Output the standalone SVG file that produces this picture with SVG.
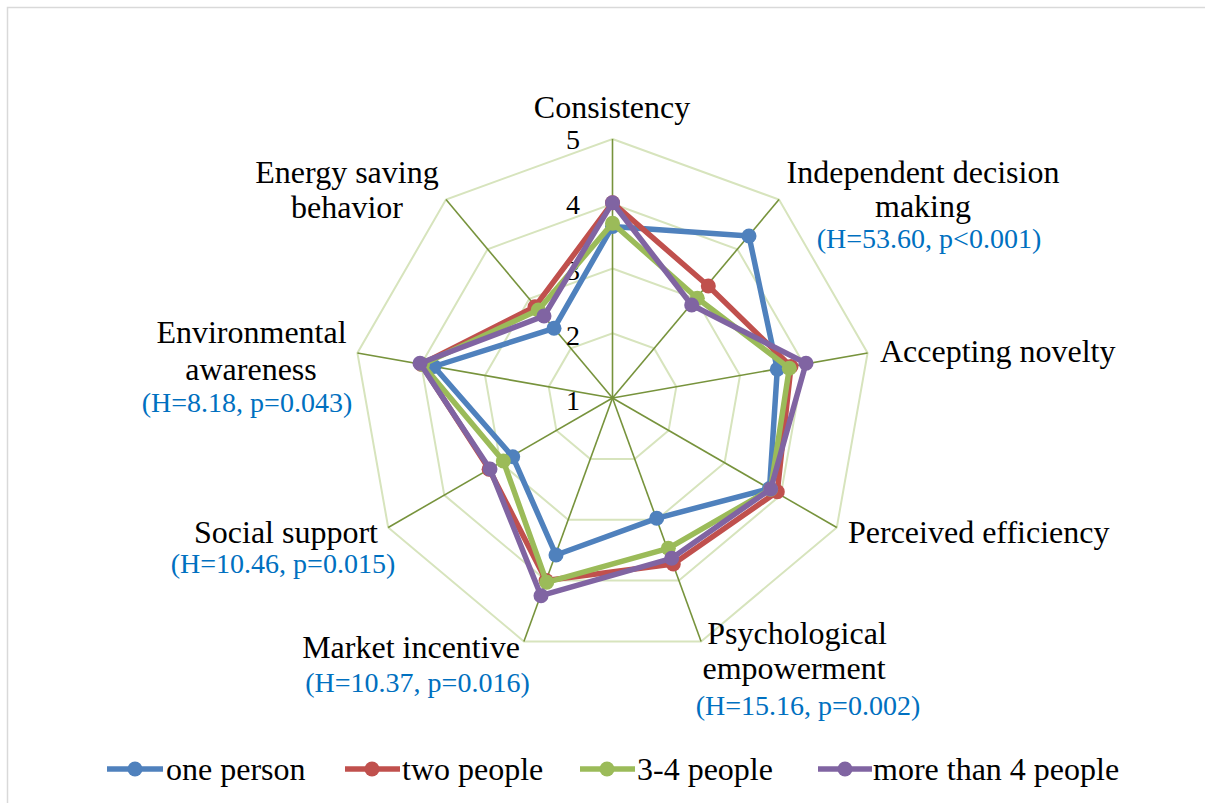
<svg xmlns="http://www.w3.org/2000/svg" width="1205" height="803" viewBox="0 0 1205 803">
<style>
.ring{fill:none;stroke:#d7e4bd;stroke-width:2}
.axis{stroke:#77933c;stroke-width:1.6}
.s{fill:none;stroke-width:5.5;stroke-linejoin:round}
.lbl{font-family:"Liberation Serif","Times New Roman",serif;font-size:32px;fill:#000}
.h{font-family:"Liberation Serif","Times New Roman",serif;font-size:28px;fill:#0070c0}
.num{font-family:"Liberation Serif","Times New Roman",serif;font-size:28px;fill:#000;text-anchor:end}
.blue{stroke:#4f81bd}.bluef{fill:#4f81bd}
.red{stroke:#c0504d}.redf{fill:#c0504d}
.green{stroke:#9bbb59}.greenf{fill:#9bbb59}
.purple{stroke:#8064a2}.purplef{fill:#8064a2}
</style>
<rect x="0" y="0" width="1205" height="803" fill="#fff"/>
<rect x="7.5" y="7.5" width="1210" height="810" fill="none" stroke="#d9d9d9" stroke-width="1.5"/>
<g id="grid" transform="translate(612.5,398)">
<polygon class="ring" points="0,-64.75 41.6,-49.6 63.8,-11.2 56.1,32.4 22.2,60.9 -22.2,60.9 -56.1,32.4 -63.8,-11.2 -41.6,-49.6"/>
<polygon class="ring" points="0,-129.5 83.2,-99.2 127.5,-22.5 112.1,64.75 44.3,121.7 -44.3,121.7 -112.1,64.75 -127.5,-22.5 -83.2,-99.2"/>
<polygon class="ring" points="0,-194.25 124.9,-148.8 191.3,-33.7 168.2,97.1 66.4,182.5 -66.4,182.5 -168.2,97.1 -191.3,-33.7 -124.9,-148.8"/>
<polygon class="ring" points="0,-259 166.5,-198.4 255.1,-45 224.3,129.5 88.6,243.4 -88.6,243.4 -224.3,129.5 -255.1,-45 -166.5,-198.4"/>
<line class="axis" x1="0" y1="0" x2="0" y2="-259"/>
<line class="axis" x1="0" y1="0" x2="166.5" y2="-198.4"/>
<line class="axis" x1="0" y1="0" x2="255.1" y2="-45"/>
<line class="axis" x1="0" y1="0" x2="224.3" y2="129.5"/>
<line class="axis" x1="0" y1="0" x2="88.6" y2="243.4"/>
<line class="axis" x1="0" y1="0" x2="-88.6" y2="243.4"/>
<line class="axis" x1="0" y1="0" x2="-224.3" y2="129.5"/>
<line class="axis" x1="0" y1="0" x2="-255.1" y2="-45"/>
<line class="axis" x1="0" y1="0" x2="-166.5" y2="-198.4"/>
</g>
<g id="scale">
<text class="num" x="580" y="149">5</text>
<text class="num" x="580" y="214">4</text>
<text class="num" x="580" y="280">3</text>
<text class="num" x="580" y="345">2</text>
<text class="num" x="580" y="410">1</text>
</g>
<g id="connectors">
<g id="series-one-person">
<polygon class="s blue" points="612.5,226.4 749,236 777.3,369.3 769.5,488.6 656.7,518.3 556,555 512.7,456.7 433.9,366.5 554,328.3"/>
<g class="bluef">
<circle cx="612.5" cy="226.4" r="7.5"/><circle cx="749" cy="236" r="7.5"/><circle cx="777.3" cy="369.3" r="7.5"/><circle cx="769.5" cy="488.6" r="7.5"/><circle cx="656.7" cy="518.3" r="7.5"/><circle cx="556" cy="555" r="7.5"/><circle cx="512.7" cy="456.7" r="7.5"/><circle cx="433.9" cy="366.5" r="7.5"/><circle cx="554" cy="328.3" r="7.5"/>
</g>
</g>
<g id="series-two-people">
<polygon class="s red" points="612.5,202.7 708.3,286 791,366.5 777.3,491.7 673.3,564 546.1,580.5 489.1,469.2 421.2,364.3 535,306.7"/>
<g class="redf">
<circle cx="612.5" cy="202.7" r="7.5"/><circle cx="708.3" cy="286" r="7.5"/><circle cx="791" cy="366.5" r="7.5"/><circle cx="777.3" cy="491.7" r="7.5"/><circle cx="673.3" cy="564" r="7.5"/><circle cx="546.1" cy="580.5" r="7.5"/><circle cx="489.1" cy="469.2" r="7.5"/><circle cx="421.2" cy="364.3" r="7.5"/><circle cx="535" cy="306.7" r="7.5"/>
</g>
</g>
<g id="series-3-4-people">
<polygon class="s green" points="612.5,223.3 697.3,298.3 789.3,368.3 770.6,489.3 668.3,548.3 546.7,582.3 503.3,461 422.5,364.5 538.3,310"/>
<g class="greenf">
<circle cx="612.5" cy="223.3" r="7.5"/><circle cx="697.3" cy="298.3" r="7.5"/><circle cx="789.3" cy="368.3" r="7.5"/><circle cx="770.6" cy="489.3" r="7.5"/><circle cx="668.3" cy="548.3" r="7.5"/><circle cx="546.7" cy="582.3" r="7.5"/><circle cx="503.3" cy="461" r="7.5"/><circle cx="422.5" cy="364.5" r="7.5"/><circle cx="538.3" cy="310" r="7.5"/>
</g>
</g>
<g id="series-more-than-4">
<polygon class="s purple" points="612.5,202.7 691.7,305 806,363.3 770.7,489 671.7,558.3 541,595.7 490,469 420,363.3 544,316"/>
<g class="purplef">
<circle cx="612.5" cy="202.7" r="7.5"/><circle cx="691.7" cy="305" r="7.5"/><circle cx="806" cy="363.3" r="7.5"/><circle cx="770.7" cy="489" r="7.5"/><circle cx="671.7" cy="558.3" r="7.5"/><circle cx="541" cy="595.7" r="7.5"/><circle cx="490" cy="469" r="7.5"/><circle cx="420" cy="363.3" r="7.5"/><circle cx="544" cy="316" r="7.5"/>
</g>
</g>
</g>
<g id="label-consistency"><text class="lbl" x="612" y="118" text-anchor="middle">Consistency</text></g>
<g id="label-independent" text-anchor="middle">
<text class="lbl" x="923" y="183">Independent decision</text>
<text class="lbl" x="923" y="217">making</text>
<text class="h" x="929" y="248">(H=53.60, p&lt;0.001)</text>
</g>
<g id="label-accepting"><text class="lbl" x="880" y="362">Accepting novelty</text></g>
<g id="label-perceived"><text class="lbl" x="848" y="543">Perceived efficiency</text></g>
<g id="label-psychological" text-anchor="middle">
<text class="lbl" x="797" y="644">Psychological</text>
<text class="lbl" x="794" y="679">empowerment</text>
<text class="h" x="808" y="715">(H=15.16, p=0.002)</text>
</g>
<g id="label-market" text-anchor="middle">
<text class="lbl" x="411" y="658">Market incentive</text>
<text class="h" x="417.5" y="692">(H=10.37, p=0.016)</text>
</g>
<g id="label-social" text-anchor="middle">
<text class="lbl" x="286" y="543">Social support</text>
<text class="h" x="283" y="573">(H=10.46, p=0.015)</text>
</g>
<g id="label-environmental" text-anchor="middle">
<text class="lbl" x="251.5" y="343">Environmental</text>
<text class="lbl" x="251" y="380">awareness</text>
<text class="h" x="247" y="412">(H=8.18, p=0.043)</text>
</g>
<g id="label-energy" text-anchor="middle">
<text class="lbl" x="347" y="183">Energy saving</text>
<text class="lbl" x="347" y="218">behavior</text>
</g>
<g id="legend">
<line class="blue" x1="107" y1="769" x2="163" y2="769" stroke-width="5.5"/><circle class="bluef" cx="135" cy="769" r="7.5"/>
<text class="lbl" x="166" y="780">one person</text>
<line class="red" x1="345" y1="769" x2="400" y2="769" stroke-width="5.5"/><circle class="redf" cx="372" cy="769" r="7.5"/>
<text class="lbl" x="402" y="780">two people</text>
<line class="green" x1="580" y1="769" x2="635" y2="769" stroke-width="5.5"/><circle class="greenf" cx="607" cy="769" r="7.5"/>
<text class="lbl" x="637" y="780">3-4 people</text>
<line class="purple" x1="818" y1="769" x2="872" y2="769" stroke-width="5.5"/><circle class="purplef" cx="845" cy="769" r="7.5"/>
<text class="lbl" x="873" y="780">more than 4 people</text>
</g>
</svg>
